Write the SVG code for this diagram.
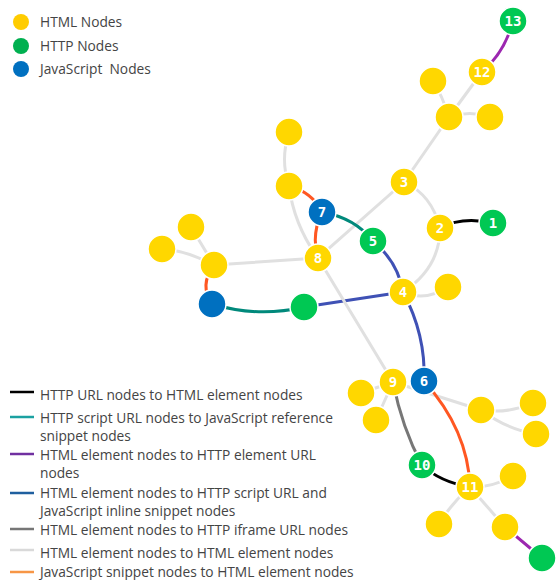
<svg xmlns="http://www.w3.org/2000/svg" width="557" height="580" viewBox="0 0 557 580">
<style>
.e{fill:none;stroke-width:3;stroke-linecap:round}
.lt{stroke:#E0E0E0}.or{stroke:#FF5722}.te{stroke:#00897B}.in{stroke:#3F51B5}.pu{stroke:#9C27B0}.bk{stroke:#000}.gy{stroke:#777}
.y{fill:#FFD700;stroke:#fff;stroke-width:1.5}.g{fill:#00C853;stroke:#fff;stroke-width:1.5}.b{fill:#0070C0;stroke:#fff;stroke-width:1.5}
.n{font-family:"DejaVu Sans Mono",monospace;font-weight:bold;font-size:14px;fill:#fff;text-anchor:middle}
.lg{font-family:"Open Sans","Noto Sans",sans-serif;font-size:13.75px;fill:#444;white-space:pre}
.ll{stroke-width:2.5;fill:none}
</style>
<rect width="557" height="580" fill="#fff"/>
<g id="connectors">
<path class="e pu" d="M513 21 Q505 52 482 72"/>
<path class="e lt" d="M482 72 L449 117"/>
<path class="e lt" d="M433 81 Q442 95 449 117"/>
<path class="e lt" d="M490 117 Q470 110 449 117"/>
<path class="e lt" d="M449 117 L404 182"/>
<path class="e lt" d="M404 182 Q432 195 440 228"/>
<path class="e lt" d="M404 182 L318 258"/>
<path class="e bk" d="M440 228 Q462 216 493 223"/>
<path class="e lt" d="M440 228 Q440 268 403 292"/>
<path class="e te" d="M322 212 Q355 218 373 241"/>
<path class="e in" d="M373 241 Q398 262 403 292"/>
<path class="e lt" d="M403 292 Q425 302 448 287"/>
<path class="e in" d="M403 292 L304 307"/>
<path class="e te" d="M304 307 Q258 318 212 304"/>
<path class="e or" d="M212 304 Q199 285 214 265"/>
<path class="e lt" d="M214 265 L191 227"/>
<path class="e lt" d="M214 265 Q185 250 162 249"/>
<path class="e lt" d="M214 265 L318 258"/>
<path class="e lt" d="M289 132 Q280 160 289 186"/>
<path class="e or" d="M289 186 Q312 192 322 212"/>
<path class="e lt" d="M289 186 Q294 225 318 258"/>
<path class="e or" d="M322 212 Q311 235 318 258"/>
<path class="e lt" d="M318 258 L393 382"/>
<path class="e in" d="M403 292 Q426 335 424 381"/>
<path class="e lt" d="M393 382 L481 410"/>
<path class="e lt" d="M393 382 L361 393"/>
<path class="e lt" d="M393 382 L376 420"/>
<path class="e gy" d="M393 382 Q402 428 422 465"/>
<path class="e or" d="M424 381 Q468 430 470 487"/>
<path class="e bk" d="M422 465 Q440 482 470 487"/>
<path class="e lt" d="M470 487 Q492 488 513 476"/>
<path class="e lt" d="M470 487 Q450 505 439 524"/>
<path class="e lt" d="M470 487 L505 527"/>
<path class="e pu" d="M505 527 L542 558"/>
<path class="e lt" d="M481 410 Q508 414 533 403"/>
<path class="e lt" d="M481 410 Q508 430 536 434"/>
</g>
<g id="node-13"><circle class="g" cx="513" cy="21" r="14"/><text class="n" x="513" y="26">13</text></g>
<g id="node-12"><circle class="y" cx="482" cy="72" r="14"/><text class="n" x="482" y="77">12</text></g>
<g id="node-a"><circle class="y" cx="433" cy="81" r="14"/></g>
<g id="node-b"><circle class="y" cx="449" cy="117" r="14"/></g>
<g id="node-c"><circle class="y" cx="490" cy="117" r="14"/></g>
<g id="node-3"><circle class="y" cx="404" cy="182" r="14"/><text class="n" x="404" y="187">3</text></g>
<g id="node-2"><circle class="y" cx="440" cy="228" r="14"/><text class="n" x="440" y="233">2</text></g>
<g id="node-1"><circle class="g" cx="493" cy="223" r="14"/><text class="n" x="493" y="228">1</text></g>
<g id="node-7"><circle class="b" cx="322" cy="212" r="14"/><text class="n" x="322" y="217">7</text></g>
<g id="node-5"><circle class="g" cx="373" cy="241" r="14"/><text class="n" x="373" y="246">5</text></g>
<g id="node-8"><circle class="y" cx="318" cy="258" r="14"/><text class="n" x="318" y="263">8</text></g>
<g id="node-4"><circle class="y" cx="403" cy="292" r="14"/><text class="n" x="403" y="297">4</text></g>
<g id="node-d"><circle class="y" cx="448" cy="287" r="14"/></g>
<g id="node-t1"><circle class="y" cx="289" cy="132" r="14"/></g>
<g id="node-t2"><circle class="y" cx="289" cy="186" r="14"/></g>
<g id="node-l1"><circle class="y" cx="191" cy="227" r="14"/></g>
<g id="node-l2"><circle class="y" cx="162" cy="249" r="14"/></g>
<g id="node-l3"><circle class="y" cx="214" cy="265" r="14"/></g>
<g id="node-bl"><circle class="b" cx="212" cy="304" r="14"/></g>
<g id="node-gm"><circle class="g" cx="304" cy="307" r="14"/></g>
<g id="node-9a"><circle class="y" cx="361" cy="393" r="14"/></g>
<g id="node-9b"><circle class="y" cx="376" cy="420" r="14"/></g>
<g id="node-9"><circle class="y" cx="393" cy="382" r="14"/><text class="n" x="393" y="387">9</text></g>
<g id="node-6"><circle class="b" cx="424" cy="381" r="14"/><text class="n" x="424" y="386">6</text></g>
<g id="node-e"><circle class="y" cx="481" cy="410" r="14"/></g>
<g id="node-f"><circle class="y" cx="533" cy="403" r="14"/></g>
<g id="node-g"><circle class="y" cx="536" cy="434" r="14"/></g>
<g id="node-10"><circle class="g" cx="422" cy="465" r="14"/><text class="n" x="422" y="470">10</text></g>
<g id="node-11"><circle class="y" cx="470" cy="487" r="14"/><text class="n" x="470" y="492">11</text></g>
<g id="node-h"><circle class="y" cx="513" cy="476" r="14"/></g>
<g id="node-i"><circle class="y" cx="439" cy="524" r="14"/></g>
<g id="node-j"><circle class="y" cx="505" cy="527" r="14"/></g>
<g id="node-k"><circle class="g" cx="542" cy="558" r="14"/></g>
<g id="legend-nodes">
<circle cx="21" cy="22" r="8" fill="#FFCC00"/><text class="lg" x="40" y="27">HTML Nodes</text>
<circle cx="21" cy="46" r="8" fill="#00B050"/><text class="lg" x="40" y="51">HTTP Nodes</text>
<circle cx="21" cy="69" r="8" fill="#0070C0"/><text class="lg" x="40" y="74">JavaScript  Nodes</text>
</g>
<g id="legend-edges">
<path class="ll" stroke="#000" d="M10 392 H34"/>
<text class="lg" x="40" y="400">HTTP URL nodes to HTML element nodes</text>
<path class="ll" stroke="#1BA1A1" d="M10 417 H34"/>
<text class="lg" x="40" y="423">HTTP script URL nodes to JavaScript reference</text>
<text class="lg" x="40" y="441">snippet nodes</text>
<path class="ll" stroke="#7030A0" d="M10 454 H34"/>
<text class="lg" x="40" y="460">HTML element nodes to HTTP element URL</text>
<text class="lg" x="40" y="478">nodes</text>
<path class="ll" stroke="#1F5F9F" d="M10 493 H34"/>
<text class="lg" x="40" y="498">HTML element nodes to HTTP script URL and</text>
<text class="lg" x="40" y="516">JavaScript inline snippet nodes</text>
<path class="ll" stroke="#767676" d="M10 529 H34"/>
<text class="lg" x="40" y="535">HTML element nodes to HTTP iframe URL nodes</text>
<path class="ll" stroke="#D9D9D9" d="M10 550 H34"/>
<text class="lg" x="40" y="558">HTML element nodes to HTML element nodes</text>
<path class="ll" stroke="#F79646" d="M10 572 H34"/>
<text class="lg" x="40" y="577">JavaScript snippet nodes to HTML element nodes</text>
</g>
</svg>
